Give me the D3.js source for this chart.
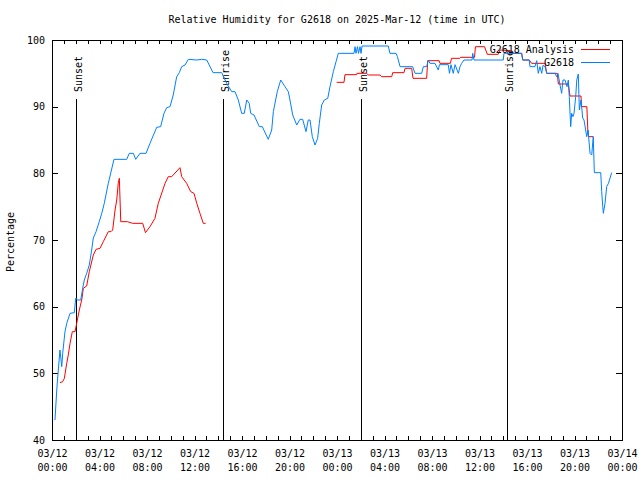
<!DOCTYPE html>
<html><head><meta charset="utf-8">
<script src="https://cdn.jsdelivr.net/npm/d3@7"></script>
<style>body{margin:0;background:#fff}svg{display:block}text{font-family:"DejaVu Sans Mono","Liberation Mono",monospace;font-size:10px;fill:#000}</style>
</head><body>
<script>
// ---- data (hours since 2025-03-12 00:00 UTC) ----
const obsHours = [0.25,0.40,0.53,0.67,0.82,0.90,1.09,1.24,1.52,1.88,2.00,2.13,2.42,2.59,2.72,2.92,3.14,3.34,3.48,3.71,3.98,4.19,4.40,4.74,5.22,6.29,6.51,6.85,7.05,7.41,7.92,8.25,8.82,9.15,9.43,9.66,9.94,10.21,10.50,10.72,10.92,11.20,11.48,12.19,12.61,13.03,13.56,14.29,14.71,15.13,15.41,15.69,15.97,16.19,16.40,16.61,16.73,17.01,17.46,17.71,18.21,18.50,18.64,18.97,19.26,19.62,19.90,20.04,20.27,20.61,20.88,21.11,21.39,21.58,21.73,21.92,22.15,22.37,22.51,22.71,22.93,23.22,23.41,23.69,23.92,24.11,25.43,25.52,25.60,25.73,25.81,25.94,26.02,26.11,28.32,28.46,28.97,29.09,29.31,30.37,30.57,31.13,31.27,31.55,31.69,31.83,32.25,32.53,32.63,33.37,33.47,33.60,33.79,33.94,34.22,34.36,34.50,34.69,35.37,35.43,35.54,38.00,38.06,39.55,39.64,40.19,40.25,40.67,40.82,40.95,41.09,41.24,41.35,41.52,41.66,42.36,42.50,42.61,42.78,42.92,43.03,43.20,43.37,43.48,43.56,43.68,43.76,43.87,43.96,44.10,44.19,44.32,44.41,44.55,44.69,44.80,45.03,45.14,45.31,45.45,45.58,45.67,46.21,46.29,46.38,46.43,46.57,46.71,46.86,47.13];
const obsValues = [43.0,47.5,50.5,53.5,51,53,56.2,57.5,59,59.1,61.3,61,61,62.8,64,65,66.25,68.5,70.3,71.25,72.75,74,75.5,78.5,82.1,82.1,83,83,82.1,83,83,84.5,86.9,87,89,89.85,90,91.75,94.5,95.1,96,96.25,97.1,97,97.1,97,95.1,95.1,93.5,92.25,92.25,91,89,89,91,90.5,89,88.75,87,87,85.1,86.5,89.25,92.25,94,93,92.25,91,88.75,87.25,88.1,88.1,86.25,88,88,85.5,84.25,85.25,87.5,90.25,91,91.25,93,95.25,96.75,98,98,99,98,99,98,99,98,99.1,99.1,98,98,97.5,96,96,95,95,96,96,97,96.5,96.5,95.5,96.3,96.3,95,96.3,95,96.3,95,96,96.5,97,97,98,97,97,98,98,97,97,96,96,96.9,95,96,95,96.2,96,95,95,94.5,95,93.25,92,94,94,93,94,91.5,87,89,88.5,89,91.5,94,94.9,89.5,91,88.3,88,85.5,86.5,83,82.75,85.5,80.1,80.1,77.25,75,74,75.5,78,78.5,80.1];

const anaHours1 = [0.67,0.90,1.04,1.24,1.37,1.52,1.71,1.94,2.08,2.30,2.50,2.64,2.92,3.14,3.48,3.71,4.04,4.32,4.74,4.97,5.11,5.31,5.45,5.58,5.67,5.79,6.34,6.80,7.64,7.87,8.25,8.67,8.95,9.52,9.79,10.08,10.78,10.92,11.34,11.68,11.96,12.19,12.46,12.74,12.94];
const anaValues1 = [48.6,48.75,49.25,51.5,52.75,54.5,56.25,56.25,57.5,59.5,61,62.75,63.1,65.25,67.75,68.6,68.75,69.75,71.25,71.25,71.5,74.5,76,78.5,79.25,72.75,72.75,72.5,72.5,71.1,72.0,73.25,75.5,78.5,79.5,79.5,80.85,79.5,78.5,77.25,77,75.5,74,72.5,72.5];
const anaHours2 = [23.97,24.59,24.67,25.66,25.68,26.50,26.64,27.62,27.76,28.61,28.69,29.64,29.73,30.29,30.40,31.55,31.64,32.60,32.67,33.55,33.64,34.34,34.40,35.58,35.66,36.42,36.66,37.58,37.73,38.63,38.65,39.55,39.64,40.19,40.39,41.52,41.66,42.55,42.64,43.48,43.62,44.55,44.59,45.04,45.12,45.18,45.58];
const anaValues2 = [93.65,93.65,94.8,94.8,95,95,94.75,94.75,94.5,94.5,95.1,95.1,95.75,95.75,94.25,94.25,96.9,96.9,96.5,96.5,97.25,97.25,97.4,97.4,99,99,97.85,97.85,98.5,98.4,98,98,97,97,96.5,96.5,95,95,93.4,93.4,91.6,91.6,90,90,86.5,85.5,85.5];

const sunHours = [2.02, 14.43, 26.05, 38.34];
const sunLabels = ["Sunset", "Sunrise", "Sunset", "Sunrise"];

const xTickHours = [0,4,8,12,16,20,24,28,32,36,40,44,48];
const xTickLabels = [["03/12","00:00"],["03/12","04:00"],["03/12","08:00"],["03/12","12:00"],["03/12","16:00"],["03/12","20:00"],["03/13","00:00"],["03/13","04:00"],["03/13","08:00"],["03/13","12:00"],["03/13","16:00"],["03/13","20:00"],["03/14","00:00"]];
const yTicks = [40,50,60,70,80,90,100];

const titleText = "Relative Humidity for G2618 on 2025-Mar-12 (time in UTC)";
const yLabel = "Percentage";
const seriesNames = ["G2618 Analysis", "G2618"];
const seriesColors = ["#ff0000", "#0080ff"];

// ---- drawing ----
const base = Date.UTC(2025, 2, 12);
const toDate = h => new Date(base + h * 3600e3);
const W = 640, H = 480, L = 52, R = 622, T = 40, B = 440;

const svg = d3.select("body").append("svg").attr("width", W).attr("height", H);
const x = d3.scaleUtc().domain([toDate(0), toDate(48)]).range([L, R]);
const y = d3.scaleLinear().domain([40, 100]).range([B, T]);

// minor hourly ticks bottom/top
const hourTicks = d3.range(0, 49).map(toDate);
const gb = svg.append("g").attr("transform", `translate(0,${B})`)
  .call(d3.axisBottom(x).tickValues(hourTicks).tickSize(-4).tickSizeOuter(0).tickFormat(""));
const gt = svg.append("g").attr("transform", `translate(0,${T})`)
  .call(d3.axisTop(x).tickValues(hourTicks).tickSize(-4).tickSizeOuter(0).tickFormat(""));
// labels
const gl = svg.append("g").attr("transform", `translate(0,${B})`)
  .call(d3.axisBottom(x).tickValues(xTickHours.map(toDate)).tickSize(0).tickPadding(0).tickFormat(""));
gl.selectAll(".tick").each(function(d, i) {
  const t = d3.select(this).append("text").attr("text-anchor", "middle");
  t.append("tspan").attr("x", 0).attr("y", 17).text(xTickLabels[i][0]);
  t.append("tspan").attr("x", 0).attr("y", 31).text(xTickLabels[i][1]);
});
const gy = svg.append("g").attr("transform", `translate(${L},0)`)
  .call(d3.axisLeft(y).tickValues(yTicks).tickSize(-6).tickSizeOuter(0).tickPadding(7));
const gyr = svg.append("g").attr("transform", `translate(${R},0)`)
  .call(d3.axisRight(y).tickValues(yTicks).tickSize(-6).tickSizeOuter(0).tickFormat(""));
[gb, gt, gl, gy, gyr].forEach(g => {
  g.attr("font-family", null).attr("font-size", null);
  g.select(".domain").remove();
  g.selectAll("line").attr("stroke", "#000").attr("shape-rendering", "crispEdges");
  g.selectAll("text").attr("fill", "#000");
});

// border
svg.append("rect").attr("x", L + 0.5).attr("y", T + 0.5).attr("width", R - L).attr("height", B - T)
  .attr("fill", "none").attr("stroke", "#000").attr("shape-rendering", "crispEdges");

// sun lines
sunHours.forEach((h, i) => {
  const sx = Math.round(x(toDate(h))) + 0.5;
  svg.append("line").attr("x1", sx).attr("x2", sx).attr("y1", y(91.2)).attr("y2", B)
    .attr("stroke", "#000").attr("shape-rendering", "crispEdges");
  svg.append("text").attr("transform", `translate(${sx + 5.5},${y(92.2)}) rotate(-90)`)
    .attr("text-anchor", "start").text(sunLabels[i]);
});

// series
const line = d3.line().x(d => x(toDate(d[0]))).y(d => y(d[1]));
const anaSegs = [d3.zip(anaHours1, anaValues1), d3.zip(anaHours2, anaValues2)];
anaSegs.forEach(seg => svg.append("path").datum(seg).attr("d", line)
  .attr("fill", "none").attr("stroke", seriesColors[0]).attr("stroke-width", 1));
svg.append("path").datum(d3.zip(obsHours, obsValues)).attr("d", line)
  .attr("fill", "none").attr("stroke", seriesColors[1]).attr("stroke-width", 1);

// legend
seriesNames.forEach((n, i) => {
  const ly = 49.5 + i * 13;
  svg.append("text").attr("x", 574).attr("y", ly + 3.5).attr("text-anchor", "end").text(n);
  svg.append("line").attr("x1", 581).attr("x2", 610).attr("y1", ly).attr("y2", ly)
    .attr("stroke", seriesColors[i]).attr("shape-rendering", "crispEdges");
});

// title and y label
svg.append("text").attr("x", 337).attr("y", 23).attr("text-anchor", "middle").text(titleText);
svg.append("text").attr("transform", `translate(14,242) rotate(-90)`).attr("text-anchor", "middle").text(yLabel);
</script>
</body></html>
